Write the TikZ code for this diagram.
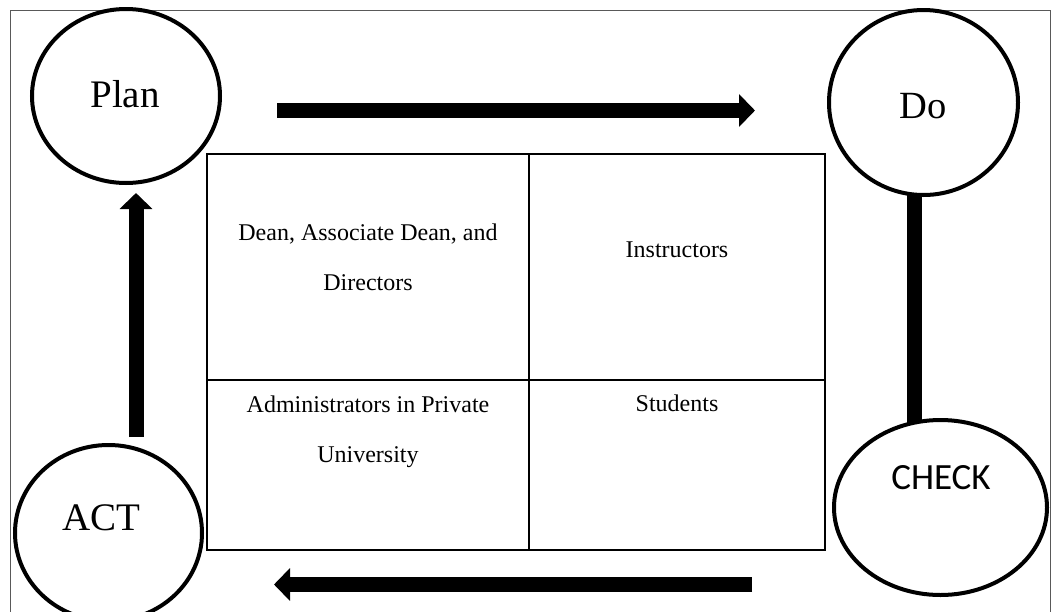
\documentclass[tikz,border=0pt]{standalone}
\usepackage{fontspec}
\setmainfont{Liberation Serif}
\newfontfamily\checkfont{Carlito}
\usetikzlibrary{shapes.geometric,arrows.meta}

\begin{document}
\begin{tikzpicture}[x=1pt,y=-1pt,
  phase/.style={ellipse, draw, line width=4pt, fill=white, inner sep=0pt},
  phaselabel/.style={anchor=base, inner sep=0pt, font=\fontsize{39}{39}\selectfont},
  flow/.style={line width=15pt, -{Triangle[length=16pt,width=32pt]}},
  link/.style={line width=15pt},
  cell/.style={draw, line width=2pt},
  celltext/.style={align=center, inner sep=0pt, anchor=base,
    font=\fontsize{24}{50}\selectfont},
  frame/.style={draw=black!65, line width=1pt}]
\clip (0,0) rectangle (1053,611);

% outer frame, open at the bottom
\draw[frame] (10,640) -- (10,10) -- (1050,10) -- (1050,640);

% stakeholder table (base anchor sits on the last line of each cell text)
\draw[cell] (207,154) rectangle (825,550);
\draw[cell] (529,154) -- (529,550);
\draw[cell] (207,380) -- (825,380);
\node[celltext] (dean) at (368,290) {Dean, Associate Dean, and\\Directors};
\node[celltext] (instr) at (677,257) {Instructors};
\node[celltext] (admin) at (368,462) {Administrators in Private\\University};
\node[celltext] (stud) at (677,411) {Students};

% PDCA phases
\node[phase, minimum width=188, minimum height=174] (plan) at (126,96) {};
\node[phase, minimum width=189, minimum height=185] (do) at (923.5,102.5) {};
\node[phase, minimum width=187, minimum height=176] (act) at (108.5,533) {};
\node[phase, minimum width=213, minimum height=175] (check) at (940.5,507.5) {};

\node[phaselabel] (plantext) at (125,107) {Plan};
\node[phaselabel, font=\fontsize{38.5}{38.5}\selectfont] (dotext) at (923,118) {Do};
\node[phaselabel] (acttext) at (101,530) {ACT};
\node[phaselabel, font=\checkfont\fontsize{37}{37}\selectfont] (checktext) at (941,489) {CHECK};

% cycle connectors
\coordinate (planout) at (277,110.5);
\coordinate (doin) at (755,110.5);
\coordinate (doout) at (914.5,195);
\coordinate (checkin) at (914.5,423);
\coordinate (checkout) at (752,584.5);
\coordinate (actin) at (274,584.5);
\coordinate (actout) at (136,437);
\coordinate (planin) at (136,193);

\draw[flow] (planout) -- (doin);
\draw[link] (doout) -- (checkin);
\draw[flow] (checkout) -- (actin);
\draw[flow] (actout) -- (planin);
\end{tikzpicture}
\end{document}
